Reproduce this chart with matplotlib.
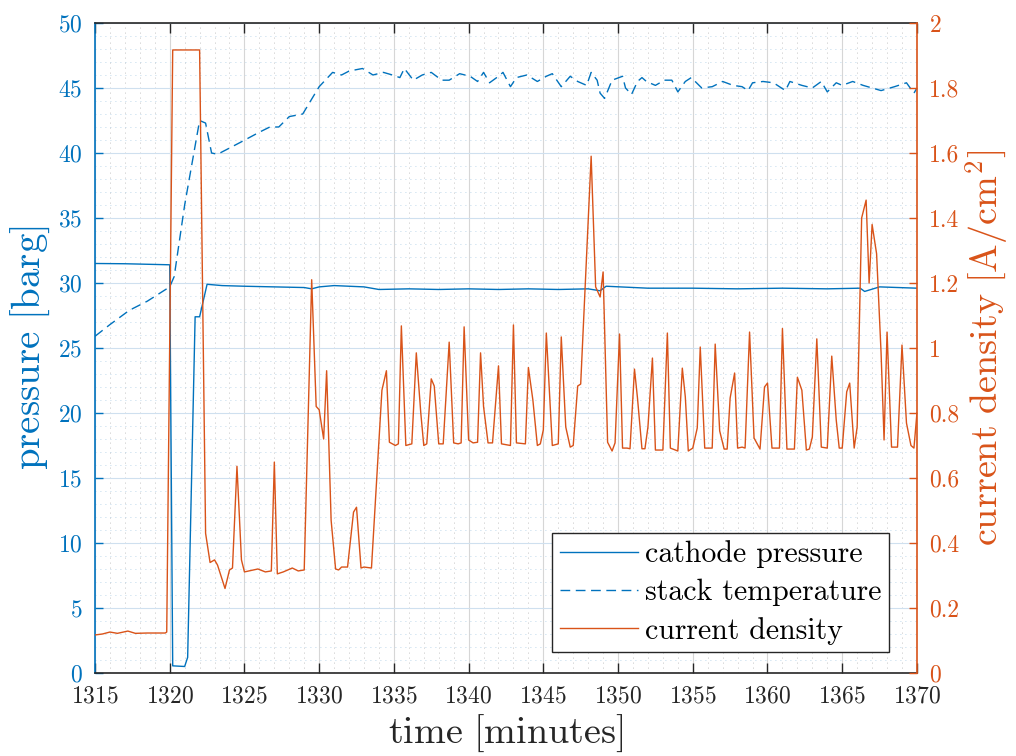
import numpy as np
import matplotlib
matplotlib.use("Agg")
import matplotlib.pyplot as plt
from matplotlib.ticker import MultipleLocator

plt.rcParams['font.family'] = 'serif'
plt.rcParams['font.serif'] = ['cmr10']
plt.rcParams['mathtext.fontset'] = 'cm'
plt.rcParams['axes.formatter.use_mathtext'] = True

BLUE = '#0072BD'
ORANGE = '#D95319'

# cathode pressure [barg]
t_p = [1315.0, 1317.0, 1320.0, 1320.2, 1321.0, 1321.2, 1321.7, 1322.0, 1322.5,
       1323.5, 1325.0, 1327.0, 1329.0, 1329.5, 1330.0, 1331.0, 1333.0, 1334.0,
       1336.0, 1338.0, 1340.0, 1342.0, 1344.0, 1346.0, 1348.0, 1348.8, 1349.2,
       1352.0, 1355.0, 1358.0, 1361.0, 1364.0, 1366.2, 1366.5, 1367.5, 1370.0]
p_cat = [31.5, 31.48, 31.4, 0.55, 0.5, 1.2, 27.4, 27.4, 29.9,
         29.8, 29.75, 29.7, 29.65, 29.55, 29.7, 29.8, 29.7, 29.5,
         29.55, 29.5, 29.55, 29.5, 29.55, 29.5, 29.55, 29.4, 29.75,
         29.6, 29.6, 29.55, 29.6, 29.55, 29.6, 29.35, 29.7, 29.6]

# stack temperature (plotted on left axis)
t_T = [1315.0, 1316.0, 1317.3, 1318.5, 1320.0, 1320.3, 1321.0, 1322.0, 1322.4,
       1322.8, 1323.2, 1324.7, 1326.0, 1326.7, 1327.3, 1328.0, 1328.9, 1330.0,
       1330.9, 1331.5, 1332.0, 1332.9, 1333.6, 1334.3, 1334.9, 1335.4, 1335.7,
       1336.3, 1336.9, 1337.5, 1338.2, 1338.7, 1339.4, 1340.1, 1340.6, 1341.0,
       1341.4, 1342.0, 1342.3, 1342.8, 1343.2, 1343.9, 1344.6, 1345.2, 1345.6,
       1346.2, 1346.8, 1347.3, 1347.9, 1348.2, 1348.6, 1348.8, 1349.1, 1349.6,
       1350.3, 1350.5, 1350.9, 1351.3, 1351.6, 1351.9, 1352.5, 1353.1, 1353.6,
       1354.0, 1354.5, 1354.9, 1355.6, 1356.3, 1357.0, 1357.7, 1358.3, 1358.7,
       1359.0, 1359.7, 1360.4, 1361.2, 1361.5, 1362.3, 1363.0, 1363.6, 1364.0,
       1364.6, 1365.0, 1365.7, 1366.4, 1367.0, 1367.6, 1368.5, 1369.3, 1369.8,
       1370.0]
T_stack = [25.9, 26.8, 27.9, 28.6, 29.7, 30.5, 36.0, 42.5, 42.3,
           40.0, 39.9, 40.8, 41.6, 42.0, 42.0, 42.8, 43.0, 45.1,
           46.2, 46.0, 46.3, 46.5, 46.0, 46.2, 46.0, 45.8, 46.5,
           45.6, 46.0, 46.2, 45.6, 45.6, 46.1, 45.9, 45.5, 46.2,
           45.4, 45.9, 46.2, 45.1, 45.8, 46.0, 45.5, 45.9, 46.1,
           45.1, 45.9, 45.5, 45.2, 46.2, 45.6, 44.6, 44.2, 45.6,
           45.9, 45.0, 44.5, 45.5, 45.8, 45.5, 45.2, 45.6, 45.6,
           44.7, 45.5, 45.8, 45.0, 45.1, 45.5, 45.2, 45.1, 44.8,
           45.4, 45.5, 45.4, 44.8, 45.5, 45.2, 45.0, 45.5, 44.7,
           45.4, 45.2, 45.5, 45.2, 45.0, 44.8, 45.1, 45.4, 44.6,
           45.0]

# current density [A/cm^2]
t_j = [1315.0, 1315.5, 1316.0, 1316.5, 1317.2, 1317.7, 1318.5, 1319.7, 1319.8,
       1320.2, 1322.0, 1322.4, 1322.7, 1323.0, 1323.2, 1323.7, 1324.0, 1324.2,
       1324.5, 1324.8, 1325.0, 1325.9, 1326.4, 1326.8, 1327.0, 1327.2, 1327.6,
       1328.2, 1328.6, 1329.0, 1329.5, 1329.8, 1330.0, 1330.3, 1330.5, 1330.8,
       1331.1, 1331.3, 1331.5, 1331.9, 1332.3, 1332.5, 1332.8, 1333.0, 1333.5,
       1334.2, 1334.5, 1334.7, 1335.1, 1335.3, 1335.5, 1335.8, 1336.2, 1336.5,
       1336.8, 1337.0, 1337.2, 1337.5, 1337.7, 1338.0, 1338.3, 1338.7, 1339.0,
       1339.3, 1339.5, 1339.7, 1340.0, 1340.3, 1340.6, 1340.8, 1341.0, 1341.3,
       1341.6, 1342.0, 1342.2, 1342.8, 1343.0, 1343.2, 1343.8, 1344.0, 1344.3,
       1344.6, 1344.8, 1345.0, 1345.2, 1345.6, 1346.0, 1346.2, 1346.5, 1346.8,
       1347.0, 1347.3, 1347.5, 1348.2, 1348.5, 1348.8, 1349.0, 1349.3, 1349.6,
       1349.8, 1350.1, 1350.3, 1350.6, 1350.8, 1351.1, 1351.3, 1351.6, 1351.8,
       1352.0, 1352.3, 1352.5, 1353.0, 1353.3, 1353.5, 1354.0, 1354.3, 1354.5,
       1354.7, 1355.0, 1355.3, 1355.5, 1355.8, 1356.3, 1356.5, 1356.8, 1357.1,
       1357.3, 1357.5, 1357.8, 1358.0, 1358.3, 1358.5, 1358.8, 1359.1, 1359.5,
       1359.8, 1360.0, 1360.3, 1360.6, 1360.8, 1361.0, 1361.3, 1361.8, 1362.0,
       1362.3, 1362.6, 1362.8, 1363.0, 1363.3, 1363.6, 1364.0, 1364.3, 1364.6,
       1364.8, 1365.0, 1365.3, 1365.5, 1365.8, 1366.0, 1366.3, 1366.6, 1366.8,
       1367.0, 1367.3, 1367.6, 1367.8, 1368.0, 1368.3, 1368.7, 1369.0, 1369.3,
       1369.6, 1369.8, 1370.0]
j_cur = [0.117, 0.12, 0.126, 0.122, 0.129, 0.122, 0.123, 0.123, 0.126,
         1.917, 1.917, 0.43, 0.34, 0.348, 0.332, 0.26, 0.317, 0.323,
         0.636, 0.348, 0.311, 0.32, 0.311, 0.314, 0.649, 0.305, 0.311,
         0.323, 0.314, 0.317, 1.21, 0.82, 0.81, 0.72, 0.93, 0.47,
         0.32, 0.317, 0.326, 0.326, 0.495, 0.51, 0.323, 0.326, 0.323,
         0.87, 0.93, 0.71, 0.70, 0.705, 1.068, 0.70, 0.705, 0.985,
         0.80, 0.70, 0.705, 0.905, 0.883, 0.705, 0.705, 1.018, 0.708,
         0.705, 0.708, 1.065, 0.717, 0.708, 0.71, 0.985, 0.82, 0.708,
         0.708, 0.945, 0.705, 0.70, 1.071, 0.708, 0.705, 0.94, 0.84,
         0.70, 0.705, 0.748, 1.046, 0.70, 0.705, 1.034, 0.757, 0.695,
         0.70, 0.883, 0.889, 1.59, 1.188, 1.157, 1.234, 0.71, 0.683,
         0.708, 1.043, 0.692, 0.692, 0.69, 0.935, 0.846, 0.69, 0.69,
         0.757, 0.969, 0.686, 0.686, 1.046, 0.692, 0.683, 0.938, 0.85,
         0.683, 0.692, 0.754, 1.003, 0.692, 0.692, 1.012, 0.745, 0.689,
         0.689, 0.846, 0.923, 0.692, 0.695, 0.692, 1.049, 0.723, 0.689,
         0.88, 0.892, 0.692, 0.692, 0.692, 1.06, 0.689, 0.689, 0.91,
         0.87, 0.686, 0.689, 0.726, 1.028, 0.695, 0.692, 0.975, 0.778,
         0.692, 0.692, 0.865, 0.892, 0.692, 0.757, 1.40, 1.455, 1.20,
         1.38, 1.29, 0.985, 0.717, 1.049, 0.695, 0.695, 1.009, 0.769,
         0.70, 0.692, 0.80]

fig = plt.figure(figsize=(10.16, 7.56), dpi=100)
ax = fig.add_axes([0.0935, 0.1098, 0.809, 0.8598])
ax2 = ax.twinx()

l1, = ax.plot(t_p, p_cat, color=BLUE, lw=1.0, label='cathode pressure')
l2, = ax.plot(t_T, T_stack, color=BLUE, lw=1.0, linestyle=(0, (7, 4)),
              label='stack temperature')
l3, = ax2.plot(t_j, j_cur, color=ORANGE, lw=1.0, label='current density')

ax.set_xlim(1315, 1370)
ax.set_ylim(0, 50)
ax2.set_ylim(0, 2)
ax.xaxis.set_major_locator(MultipleLocator(5))
ax.xaxis.set_minor_locator(MultipleLocator(1))
ax.yaxis.set_major_locator(MultipleLocator(5))
ax.yaxis.set_minor_locator(MultipleLocator(1))
ax2.yaxis.set_major_locator(MultipleLocator(0.2))
ax2.yaxis.set_major_formatter(plt.FuncFormatter(lambda v, p: '%g' % round(v, 1)))

# grid
ax.grid(True, which='major', axis='x', color='#d6d6d6', lw=0.8)
ax.grid(True, which='major', axis='y', color='#cfe0ef', lw=0.8)
ax.grid(True, which='minor', axis='x', color='#b0b0b0', lw=0.6, linestyle=(0, (1, 5)))
ax.grid(True, which='minor', axis='y', color='#a9cbe6', lw=0.6, linestyle=(0, (1, 5)))
ax.set_axisbelow(True)

ax.tick_params(axis='x', which='major', direction='in', length=7, top=True,
               labelsize=17, pad=9, colors='#262626', width=1.0)
ax.tick_params(axis='x', which='minor', length=0, top=False, bottom=False)
ax.tick_params(axis='y', which='major', direction='in', length=6, labelsize=17,
               pad=9, colors=BLUE, width=1.0)
ax.tick_params(axis='y', which='minor', length=0, left=False)
ax2.tick_params(axis='y', which='major', direction='in', length=6, labelsize=17,
                pad=9, colors=ORANGE, width=1.0)

for s in ['top', 'bottom']:
    ax.spines[s].set_color('#262626')
    ax2.spines[s].set_visible(False)
ax.spines['left'].set_color(BLUE)
ax2.spines['left'].set_visible(False)
ax2.spines['right'].set_color(ORANGE)
ax.spines['right'].set_visible(False)
for a in (ax, ax2):
    for s in a.spines.values():
        s.set_linewidth(1.2)

ax.set_xlabel(r'$\mathrm{time\ [minutes]}$', fontsize=27.5, color='#262626', labelpad=4)
ax.set_ylabel(r'$\mathrm{pressure\ [barg]}$', fontsize=28, color=BLUE, labelpad=4)
ax2.set_ylabel(r'$\mathrm{current\ density\ [A/cm^2]}$', fontsize=27.5, color=ORANGE,
               labelpad=3)

leg = ax2.legend(handles=[l1, l2, l3], loc='lower right',
                 bbox_to_anchor=(0.966, 0.032), borderaxespad=0, fontsize=21.5,
                 fancybox=False, edgecolor='#262626', framealpha=1,
                 handlelength=2.6, handletextpad=0.25, borderpad=0.25,
                 labelspacing=0.35)
leg.get_frame().set_linewidth(1.0)

fig.savefig('out.png', dpi=100)
